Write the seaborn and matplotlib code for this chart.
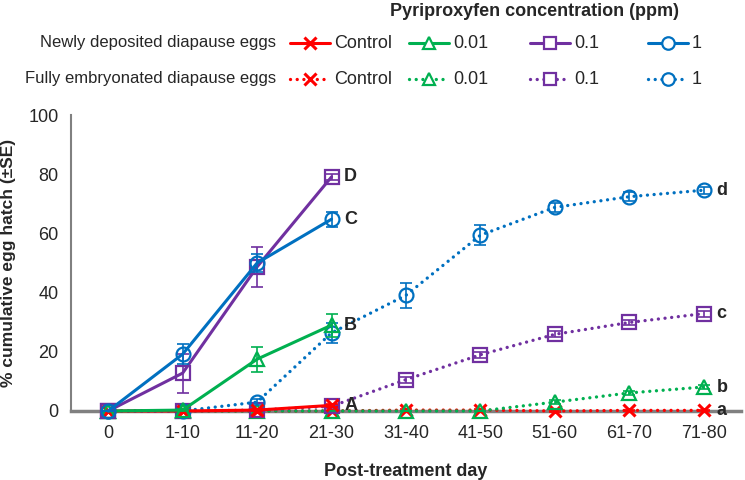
import matplotlib
matplotlib.use("Agg")
import matplotlib.pyplot as plt
from matplotlib.lines import Line2D
from matplotlib.ticker import MultipleLocator
import numpy as np
import pandas as pd
import seaborn as sns

days = ["0", "1-10", "11-20", "21-30", "31-40", "41-50", "51-60", "61-70", "71-80"]
concs = ["Control", "0.01", "0.1", "1"]

# newly deposited diapause eggs (only up to 21-30)
new_ctrl = [0, 0, 0.3, 1.9]
new_001 = [0, 0.3, 17.5, 29]
new_01 = [0, 12.8, 48.7, 79.1]
new_1 = [0, 19.2, 50, 64.8]
new_ctrl_se = [0, 0, 0.2, 0.5]
new_001_se = [0, 0.2, 4.2, 3.9]
new_01_se = [0, 6.6, 6.7, 1.0]
new_1_se = [0, 3.4, 3.0, 2.5]

# fully embryonated diapause eggs
full_ctrl = [0, 0, 0, 0, 0.3, 0.3, 0, 0.2, 0.2]
full_001 = [0, 0, 0, 0, 0, 0, 3, 6.1, 8.1]
full_01 = [0, 0, 0.3, 1.6, 10.6, 19, 25.9, 29.9, 32.9]
full_1 = [0, 0, 3, 26.4, 39.1, 59.4, 68.8, 72.4, 74.6]
full_ctrl_se = [0, 0, 0, 0, 0.2, 0.2, 0.2, 0.2, 0.2]
full_001_se = [0, 0, 0, 0, 0, 0, 0.8, 0.8, 0.8]
full_01_se = [0, 0, 0.2, 0.5, 1.0, 1.0, 1.0, 1.0, 1.0]
full_1_se = [0, 0, 1.0, 3.4, 4.2, 3.3, 1.5, 1.5, 1.2]

new_letters = ["A", "B", "D", "C"]
full_letters = ["a", "b", "c", "d"]

colors = ["#FF0000", "#00B050", "#7030A0", "#0070C0"]
markers = ["x", "^", "s", "o"]

sns.set_style("white")
plt.rcParams["font.family"] = ["Liberation Sans", "DejaVu Sans"]
plt.rcParams["font.size"] = 13

fig = plt.figure(figsize=(7.45, 4.8), dpi=100)
ax = fig.add_axes([0.0953, 0.1438, 0.8993, 0.6166])

dotted = (0, (0.01, 2.0))

new_vals = [new_ctrl, new_001, new_01, new_1]
new_ses = [new_ctrl_se, new_001_se, new_01_se, new_1_se]
full_vals = [full_ctrl, full_001, full_01, full_1]
full_ses = [full_ctrl_se, full_001_se, full_01_se, full_1_se]


def draw(vals, ses, ls, z):
    for i, (v, se) in enumerate(zip(vals, ses)):
        x = np.arange(len(v))
        df = pd.DataFrame({"x": x, "y": v})
        ax.errorbar(x, v, yerr=se, fmt="none", ecolor=colors[i], elinewidth=1.2,
                    capsize=4, capthick=1.2, zorder=z, clip_on=False)
        sns.lineplot(data=df, x="x", y="y", ax=ax, color=colors[i], linestyle=ls,
                     linewidth=2.4 if ls != "-" else 2.2,
                     marker=markers[i], markersize=10 if markers[i] != "x" else 9,
                     markerfacecolor="none" if markers[i] != "x" else colors[i],
                     markeredgecolor=colors[i], markeredgewidth=1.6 if markers[i] != "x" else 2.2,
                     dash_capstyle="round", zorder=z, clip_on=False)


draw(full_vals, full_ses, dotted, 3)
draw(new_vals, new_ses, "-", 4)

# significance letters
for i in range(4):
    ax.text(len(new_vals[i]) - 1 + 0.17, new_vals[i][-1], new_letters[i], fontweight="bold",
            va="center", ha="left", fontsize=13)
    ax.text(len(full_vals[i]) - 1 + 0.17, full_vals[i][-1], full_letters[i], fontweight="bold",
            va="center", ha="left", fontsize=13)

ax.set_xlim(-0.5, 8.5)
ax.set_ylim(0, 100)
ax.set_xticks(range(len(days)))
ax.set_xticklabels(days)
ax.set_xticks(np.arange(-0.5, 9, 1), minor=True)
ax.yaxis.set_major_locator(MultipleLocator(20))
ax.yaxis.set_minor_locator(MultipleLocator(4))
ax.tick_params(axis="x", which="major", length=0, pad=10)
ax.tick_params(axis="x", which="minor", length=6, width=1.5, color="#808080", direction="out")
ax.tick_params(axis="y", which="major", length=6, width=1.5, color="#808080", direction="out", pad=3)
ax.tick_params(axis="y", which="minor", length=4, width=1.5, color="#808080", direction="out")
ax.tick_params(labelsize=13)
for s in ["top", "right"]:
    ax.spines[s].set_visible(False)
ax.spines["bottom"].set_color("#808080")
ax.spines["bottom"].set_linewidth(2.5)
ax.spines["left"].set_color("#808080")
ax.spines["left"].set_linewidth(1.5)
ax.set_xlabel("Post-treatment day", fontweight="bold", fontsize=13, labelpad=15)
ax.set_ylabel("% cumulative egg hatch (\u00b1SE)", fontweight="bold", fontsize=12.5, labelpad=9)

# legend laid out like the original
W, H = 745.0, 480.0
fig.text(534 / W, 1 - 12 / H, "Pyriproxyfen concentration (ppm)", ha="center", va="center",
         fontweight="bold", fontsize=13)
row_y = [43, 79]
row_lbl = ["Newly deposited diapause eggs", "Fully embryonated diapause eggs"]
col_x = [290, 409, 530, 648]
for r, ls in enumerate(["-", dotted]):
    yy = 1 - row_y[r] / H
    fig.text(276 / W, yy, row_lbl[r], ha="right", va="center", fontsize=12)
    for c in range(4):
        x0, x1 = col_x[c] / W, (col_x[c] + 40) / W
        m = markers[c]
        fig.add_artist(Line2D([x0, x1], [yy, yy], transform=fig.transFigure, color=colors[c],
                              linestyle=ls, linewidth=2.4 if r else 2.2, dash_capstyle="round"))
        fig.add_artist(Line2D([(x0 + x1) / 2], [yy], transform=fig.transFigure, marker=m,
                              markersize=9 if m != "x" else 8, color=colors[c],
                              markerfacecolor="white" if m != "x" else colors[c],
                              markeredgewidth=1.6 if m != "x" else 2.2, linestyle="none"))
        fig.text((col_x[c] + 44) / W, yy, concs[c], ha="left", va="center", fontsize=13)

fig.savefig("out.png", dpi=100)
